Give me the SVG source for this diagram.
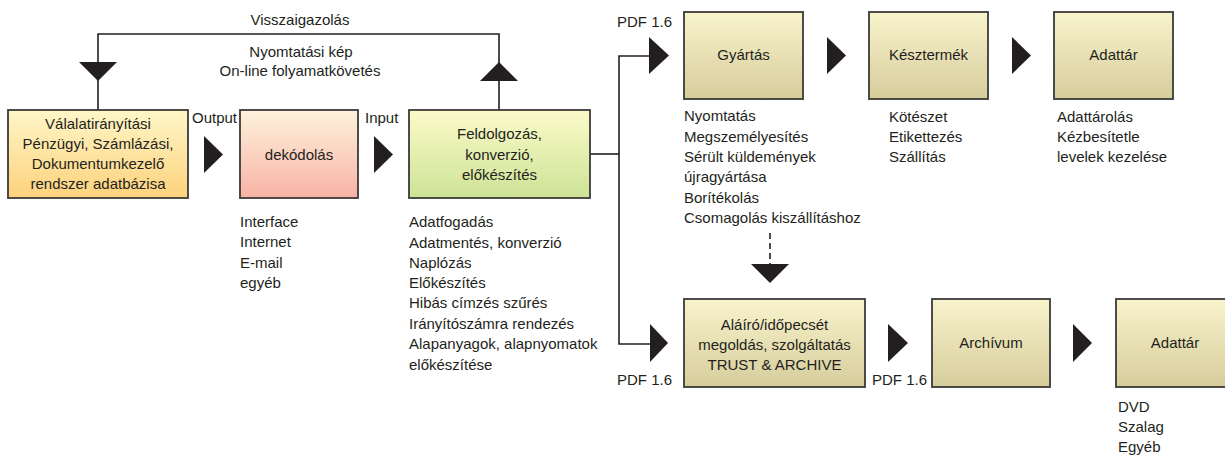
<svg xmlns="http://www.w3.org/2000/svg" width="1225" height="456" viewBox="0 0 1225 456">
<style>
text{font-family:"Liberation Sans",Arial,sans-serif;font-size:15px;fill:#231f20}
.c{text-anchor:middle}
.box{stroke:#3c3a38;stroke-width:1.8}
.ln{fill:none;stroke:#231f20;stroke-width:1.6}
.dash{fill:none;stroke:#231f20;stroke-width:1.6;stroke-dasharray:6 4}
.ar{fill:#231f20}
</style>
<defs>
<linearGradient id="gY" x1="0" y1="0" x2="0" y2="1"><stop offset="0" stop-color="#fff6c8"/><stop offset="1" stop-color="#fcd27c"/></linearGradient>
<linearGradient id="gP" x1="0" y1="0" x2="0" y2="1"><stop offset="0" stop-color="#fdf2dc"/><stop offset="1" stop-color="#f8b3a5"/></linearGradient>
<linearGradient id="gG" x1="0" y1="0" x2="0" y2="1"><stop offset="0" stop-color="#fbfac9"/><stop offset="1" stop-color="#cde396"/></linearGradient>
<linearGradient id="gT" x1="0" y1="0" x2="0" y2="1"><stop offset="0" stop-color="#f9f3cd"/><stop offset="1" stop-color="#d6cd9b"/></linearGradient>
</defs>

<g id="connectors">
<polyline class="ln" points="98,110 98,34 499,34 499,110"/>
<polygon class="ar" points="79,62 117,62 98,81"/>
<polygon class="ar" points="480,81 518,81 499,62"/>
<polygon class="ar" points="204,136 223,154.5 204,173"/>
<polygon class="ar" points="374,136 393,154.5 374,173"/>
<polyline class="ln" points="590,154 619,154"/>
<polyline class="ln" points="649,56 619,56 619,344 650,344"/>
<polygon class="ar" points="649,37 669,55.5 649,74"/>
<polygon class="ar" points="827,37 846,55.5 827,74"/>
<polygon class="ar" points="1012,37 1031,55.5 1012,74"/>
<polygon class="ar" points="650,324 668,343 650,362"/>
<polygon class="ar" points="888,324 908,343 888,362"/>
<polygon class="ar" points="1073,324 1092,343 1073,362"/>
<line class="dash" x1="770" y1="233" x2="770" y2="264"/>
<polygon class="ar" points="751,264 789,264 770,283"/>
<text class="c" x="300" y="25">Visszaigazolás</text>
<text class="c" x="301" y="57">Nyomtatási kép</text>
<text class="c" x="300" y="76">On-line folyamatkövetés</text>
<text x="192" y="123">Output</text>
<text x="365" y="123">Input</text>
<text x="617" y="27">PDF 1.6</text>
<text x="617" y="385">PDF 1.6</text>
<text x="872" y="385">PDF 1.6</text>
</g>

<g id="n-erp">
<rect class="box" x="8" y="110" width="180" height="88" fill="url(#gY)"/>
<text class="c" x="98" y="129">Válalatirányítási</text>
<text class="c" x="98" y="149">Pénzügyi, Számlázási,</text>
<text class="c" x="98" y="169">Dokumentumkezelő</text>
<text class="c" x="98" y="189">rendszer adatbázisa</text>
</g>

<g id="n-dekod">
<rect class="box" x="240" y="110" width="118" height="88" fill="url(#gP)"/>
<text class="c" x="299" y="160">dekódolás</text>
<text x="240" y="227">Interface</text>
<text x="240" y="247">Internet</text>
<text x="240" y="268">E-mail</text>
<text x="240" y="288">egyéb</text>
</g>

<g id="n-feldolg">
<rect class="box" x="409" y="110" width="181" height="88" fill="url(#gG)"/>
<text class="c" x="499.5" y="139">Feldolgozás,</text>
<text class="c" x="499.5" y="160">konverzió,</text>
<text class="c" x="499.5" y="180">előkészítés</text>
<text x="409" y="227">Adatfogadás</text>
<text x="409" y="248">Adatmentés, konverzió</text>
<text x="409" y="268">Naplózás</text>
<text x="409" y="288">Előkészítés</text>
<text x="409" y="308">Hibás címzés szűrés</text>
<text x="409" y="329">Irányítószámra rendezés</text>
<text x="409" y="349">Alapanyagok, alapnyomatok</text>
<text x="409" y="370">előkészítése</text>
</g>

<g id="n-gyartas">
<rect class="box" x="684" y="12" width="119" height="87" fill="url(#gT)"/>
<text class="c" x="743.5" y="60">Gyártás</text>
<text x="684" y="121">Nyomtatás</text>
<text x="684" y="142">Megszemélyesítés</text>
<text x="684" y="162">Sérült küldemények</text>
<text x="684" y="182">újragyártása</text>
<text x="684" y="203">Borítékolás</text>
<text x="684" y="223">Csomagolás kiszállításhoz</text>
</g>

<g id="n-kesztermek">
<rect class="box" x="869" y="12" width="119" height="87" fill="url(#gT)"/>
<text class="c" x="928.5" y="60">Késztermék</text>
<text x="889" y="122">Kötészet</text>
<text x="889" y="142">Etikettezés</text>
<text x="889" y="162">Szállítás</text>
</g>

<g id="n-adattar1">
<rect class="box" x="1054" y="12" width="119" height="87" fill="url(#gT)"/>
<text class="c" x="1113.5" y="60">Adattár</text>
<text x="1057" y="122">Adattárolás</text>
<text x="1057" y="142">Kézbesítetle</text>
<text x="1057" y="162">levelek kezelése</text>
</g>

<g id="n-alairo">
<rect class="box" x="684" y="299" width="181" height="88" fill="url(#gT)"/>
<text class="c" x="774.5" y="330">Aláíró/időpecsét</text>
<text class="c" x="774.5" y="350">megoldás, szolgáltatás</text>
<text class="c" x="774.5" y="370">TRUST &amp; ARCHIVE</text>
</g>

<g id="n-archivum">
<rect class="box" x="932" y="299" width="118" height="88" fill="url(#gT)"/>
<text class="c" x="991" y="348">Archívum</text>
</g>

<g id="n-adattar2">
<rect class="box" x="1116" y="299" width="119" height="88" fill="url(#gT)"/>
<text class="c" x="1175" y="348">Adattár</text>
<text x="1118" y="412">DVD</text>
<text x="1118" y="432">Szalag</text>
<text x="1118" y="452">Egyéb</text>
</g>
</svg>
